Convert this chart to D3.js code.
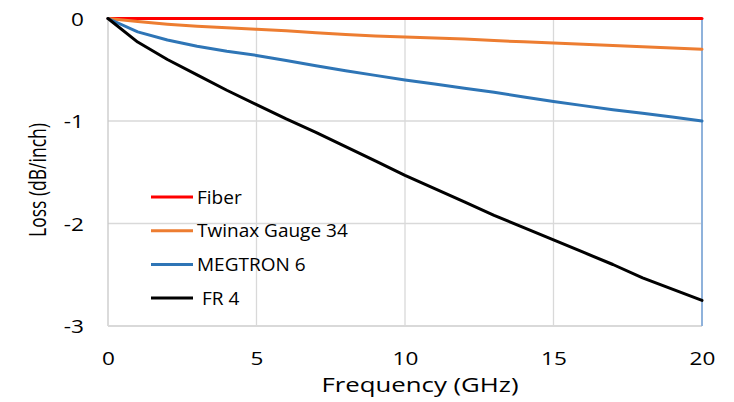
<!DOCTYPE html>
<html>
<head>
<meta charset="utf-8">
<script src="https://cdn.jsdelivr.net/npm/d3@7"></script>
<style>
  html, body { margin: 0; padding: 0; background: #fff; }
  svg { display: block; }
  text { font-family: "Open Sans", "DejaVu Sans", sans-serif; fill: #000; }
</style>
</head>
<body>
<svg id="chart" width="734" height="402"></svg>
<script>
// ---- data ----
const freqs   = [0, 1, 2, 3, 4, 5, 6, 7, 8, 9, 10, 11, 12, 13, 14, 15, 16, 17, 18, 19, 20];
const fiber   = [0, 0, 0, 0, 0, 0, 0, 0, 0, 0, 0, 0, 0, 0, 0, 0, 0, 0, 0, 0, 0];
const twinax  = [0, -0.03, -0.055, -0.075, -0.09, -0.105, -0.12, -0.14, -0.155, -0.17, -0.18, -0.19, -0.20, -0.215, -0.228, -0.24, -0.252, -0.264, -0.276, -0.288, -0.30];
const megtron = [0, -0.13, -0.21, -0.27, -0.32, -0.36, -0.41, -0.46, -0.51, -0.555, -0.60, -0.64, -0.68, -0.72, -0.765, -0.81, -0.85, -0.89, -0.925, -0.96, -1.0];
const fr4     = [0, -0.23, -0.40, -0.55, -0.70, -0.84, -0.98, -1.11, -1.25, -1.39, -1.53, -1.66, -1.79, -1.92, -2.04, -2.16, -2.28, -2.40, -2.53, -2.64, -2.75];
const seriesNames  = ["Fiber", "Twinax Gauge 34", "MEGTRON 6", " FR 4"];
const seriesColors = ["#FF0000", "#ED7D31", "#2E75B6", "#000000"];
const xTicks = [0, 5, 10, 15, 20];
const yTicks = [0, -1, -2, -3];
const xTitle = "Frequency (GHz)";
const yTitle = "Loss (dB/inch)";

const seriesValues = [fiber, twinax, megtron, fr4];

// ---- layout ----
const svg = d3.select("#chart");
const L = 108, R = 702, T = 18.5, B = 326;
const x = d3.scaleLinear().domain([0, 20]).range([L, R]);
const y = d3.scaleLinear().domain([-3, 0]).range([B, T]);
const SX = 1.22;

// grid lines
const g = svg.append("g");
g.selectAll("line.vg").data(xTicks.filter(d => d > 0 && d < 20)).enter().append("line")
  .attr("x1", d => x(d)).attr("x2", d => x(d)).attr("y1", T).attr("y2", B)
  .attr("stroke", "#D9D9D9").attr("stroke-width", 1.3);
g.selectAll("line.hg").data(yTicks.filter(d => d < 0 && d > -3)).enter().append("line")
  .attr("x1", L).attr("x2", R).attr("y1", d => y(d)).attr("y2", d => y(d))
  .attr("stroke", "#D9D9D9").attr("stroke-width", 1.3);
// axis lines
g.append("line").attr("x1", L).attr("x2", L).attr("y1", T).attr("y2", B)
  .attr("stroke", "#C8C8C8").attr("stroke-width", 1.3);
g.append("line").attr("x1", L).attr("x2", R).attr("y1", B).attr("y2", B)
  .attr("stroke", "#D9D9D9").attr("stroke-width", 2);
g.append("line").attr("x1", x(20)).attr("x2", x(20)).attr("y1", T).attr("y2", B)
  .attr("stroke", "#8FB2DB").attr("stroke-width", 2);

// axes (labels only)
const yAxis = svg.append("g").attr("transform", `translate(${L},0)`)
  .call(d3.axisLeft(y).tickValues(yTicks).tickFormat(d => String(d)).tickSize(0));
yAxis.select(".domain").remove();
yAxis.selectAll("text").attr("x", -24 / SX).attr("dy", "0.36em")
  .attr("transform", `scale(${SX},1)`)
  .style("font-size", "18.5px").style("font-family", '"Open Sans", sans-serif').attr("fill", "#000");

const xAxis = svg.append("g").attr("transform", `translate(0,${B})`)
  .call(d3.axisBottom(x).tickValues(xTicks).tickFormat(d => String(d)).tickSize(0));
xAxis.select(".domain").remove();
xAxis.selectAll("text").attr("y", 39).attr("dy", 0)
  .attr("transform", `scale(${SX},1)`)
  .style("font-size", "18.5px").style("font-family", '"Open Sans", sans-serif').attr("fill", "#000");

// axis titles
svg.append("text").attr("x", 420).attr("y", 392).attr("text-anchor", "middle")
  .style("font-size", "20px").attr("textLength", 197).attr("lengthAdjust", "spacingAndGlyphs")
  .text(xTitle);
svg.append("text").attr("transform", "translate(46,180) rotate(-90) scale(1,1.3)").attr("text-anchor", "middle")
  .style("font-size", "17.5px")
  .text(yTitle);

// series lines
const line = d3.line().x((d, i) => x(freqs[i])).y(d => y(d));
svg.append("g").selectAll("path").data(seriesValues).enter().append("path")
  .attr("d", d => line(d))
  .attr("fill", "none")
  .attr("stroke", (d, i) => seriesColors[i])
  .attr("stroke-width", 3)
  .attr("stroke-linejoin", "round")
  .attr("stroke-linecap", "round");

// legend
const lg = svg.append("g");
const rows = lg.selectAll("g").data(seriesNames).enter().append("g")
  .attr("transform", (d, i) => `translate(0,${197 + i * 33.7})`);
rows.append("line").attr("x1", 151).attr("x2", 193).attr("y1", 0).attr("y2", 0)
  .attr("stroke", (d, i) => seriesColors[i]).attr("stroke-width", 3);
rows.append("text").attr("x", 197).attr("y", 0).attr("dy", "0.35em")
  .style("font-size", "19px").style("white-space", "pre")
  .text(d => d);
</script>
</body>
</html>
